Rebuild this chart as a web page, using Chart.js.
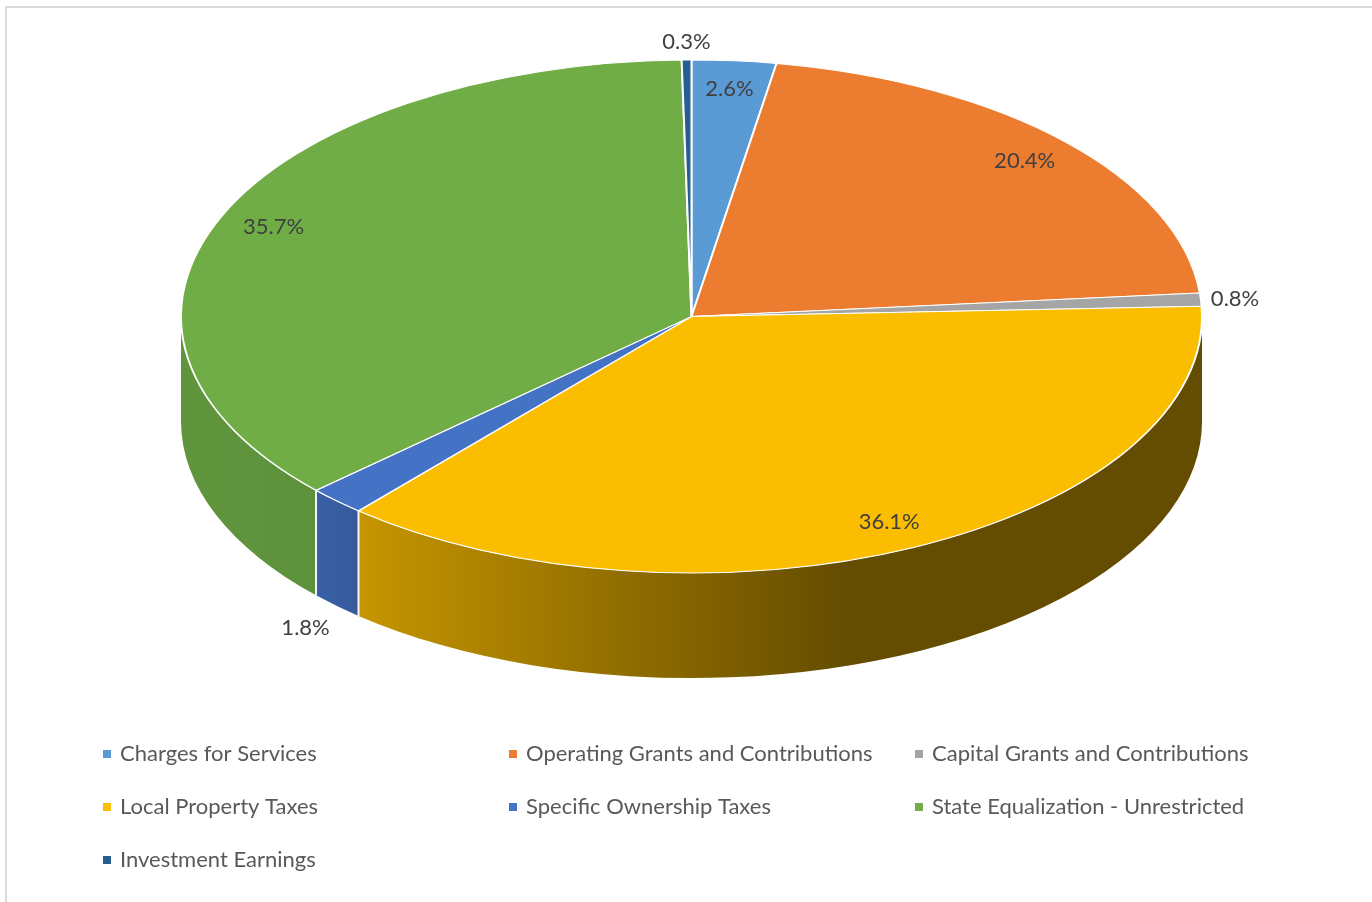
<!DOCTYPE html>
<html>
<head>
<meta charset="utf-8">
<title>Revenue Sources</title>
<script src="https://cdn.jsdelivr.net/npm/chart.js@4/dist/chart.umd.min.js"></script>
<style>
  html, body { margin: 0; padding: 0; background: #ffffff; }
  #wrap { position: relative; width: 1372px; height: 902px; overflow: hidden; }
  canvas { display: block; }
</style>
</head>
<body>
<div id="wrap"><canvas id="pie" width="1372" height="902"></canvas></div>
<script>
// Revenue categories and their share of total revenue (percent)
const categories = [
  'Charges for Services',
  'Operating Grants and Contributions',
  'Capital Grants and Contributions',
  'Local Property Taxes',
  'Specific Ownership Taxes',
  'State Equalization - Unrestricted',
  'Investment Earnings'
];
const shares = [2.6, 20.4, 0.8, 36.1, 1.8, 35.7, 0.3];
const sliceColors = ['#5B9BD5', '#EC7C30', '#A5A5A5', '#FABD00', '#4472C4', '#70AD47', '#255E91'];

// 3D look of the pie
const TILT = 0.5025;      // vertical squash of the top face
const DEPTH = 105;        // thickness of the side wall
const CENTER_Y = 316.5;   // vertical centre of the top face
const RADIUS = 510.5;
// side wall shading: [position across the pie (-1..1), brightness]
const SHADE = [[-1, 0.86], [-0.735, 0.84], [-0.653, 0.79], [0.31, 0.40], [1, 0.40]];

function shadeColor(hex, f) {
  const n = parseInt(hex.slice(1), 16);
  const r = Math.round(((n >> 16) & 255) * f);
  const g = Math.round(((n >> 8) & 255) * f);
  const b = Math.round((n & 255) * f);
  return `rgb(${r},${g},${b})`;
}

const pie3d = {
  id: 'pie3d',
  beforeDatasetsDraw(chart) {
    const ctx = chart.ctx;
    const meta = chart.getDatasetMeta(0);
    const first = meta.data[0];
    const cx = first.x, cy = first.y, r = first.outerRadius, ry = r * TILT;
    ctx.save();
    // front side walls
    meta.data.forEach((el, i) => {
      const s = Math.max(el.startAngle, 0);
      const e = Math.min(el.endAngle, Math.PI);
      if (e <= s) return;
      const grad = ctx.createLinearGradient(cx - r, 0, cx + r, 0);
      SHADE.forEach(([u, f]) => grad.addColorStop((u + 1) / 2, shadeColor(sliceColors[i], f)));
      ctx.beginPath();
      ctx.ellipse(cx, CENTER_Y, r, ry, 0, s, e, false);
      ctx.ellipse(cx, CENTER_Y + DEPTH, r, ry, 0, e, s, true);
      ctx.closePath();
      ctx.fillStyle = grad;
      ctx.fill();
    });
    // white seams where slices meet on the wall
    ctx.strokeStyle = '#ffffff';
    ctx.lineWidth = 1.5;
    meta.data.forEach((el) => {
      [el.startAngle, el.endAngle].forEach((a) => {
        if (a > 0.001 && a < Math.PI - 0.001) {
          const x = cx + r * Math.cos(a), y = CENTER_Y + ry * Math.sin(a);
          ctx.beginPath();
          ctx.moveTo(x, y);
          ctx.lineTo(x, y + DEPTH);
          ctx.stroke();
        }
      });
    });
    // squash the top face
    ctx.translate(cx, CENTER_Y);
    ctx.scale(1, TILT);
    ctx.translate(-cx, -cy);
  },
  afterDatasetsDraw(chart) {
    chart.ctx.restore();
  },
  afterDraw(chart) {
    const ctx = chart.ctx;
    const meta = chart.getDatasetMeta(0);
    const first = meta.data[0];
    const cx = first.x, r = first.outerRadius, ry = r * TILT;

    // frame
    ctx.save();
    ctx.fillStyle = '#D9D9D9';
    ctx.fillRect(5, 6, chart.width, 2);
    ctx.fillRect(5, 6, 2, chart.height);

    // percentage labels
    ctx.font = '22px Lato';
    ctx.fillStyle = '#404040';
    ctx.textBaseline = 'middle';
    meta.data.forEach((el, i) => {
      const v = shares[i];
      const mid = (el.startAngle + el.endAngle) / 2;
      const c = Math.cos(mid), s = Math.sin(mid);
      const text = v.toFixed(1) + '%';
      if (v >= 2) {
        ctx.textAlign = 'center';
        ctx.fillText(text, cx + 0.89 * r * c, CENTER_Y + 0.89 * ry * s);
      } else {
        const front = s > 0;
        const x = cx + r * c;
        const y = CENTER_Y + ry * s + (front ? DEPTH : 0);
        ctx.textAlign = Math.abs(c) < 0.3 ? 'center' : (c > 0 ? 'left' : 'right');
        ctx.fillText(text, x + 10 * c, y + 18 * s + (front ? 9 : 0));
      }
    });

    // legend: three columns
    ctx.font = '22px Lato';
    ctx.textAlign = 'left';
    chart.data.labels.forEach((lab, i) => {
      const col = i % 3, row = Math.floor(i / 3);
      const x = 103 + col * 406, y = 754 + row * 53;
      ctx.fillStyle = sliceColors[i];
      ctx.fillRect(x, y - 4, 8, 8);
      ctx.fillStyle = '#595959';
      ctx.fillText(lab, x + 17, y);
    });
    ctx.restore();
  }
};

new Chart(document.getElementById('pie'), {
  type: 'pie',
  data: {
    labels: categories,
    datasets: [{
      data: shares,
      backgroundColor: sliceColors,
      borderColor: '#ffffff',
      borderWidth: 2,
      radius: RADIUS,
      clip: false
    }]
  },
  options: {
    responsive: false,
    animation: false,
    devicePixelRatio: 1,
    events: [],
    layout: { padding: { left: 11, right: 0, top: 0, bottom: 0 } },
    plugins: {
      legend: { display: false },
      tooltip: { enabled: false }
    }
  },
  plugins: [pie3d]
});
</script>
</body>
</html>
